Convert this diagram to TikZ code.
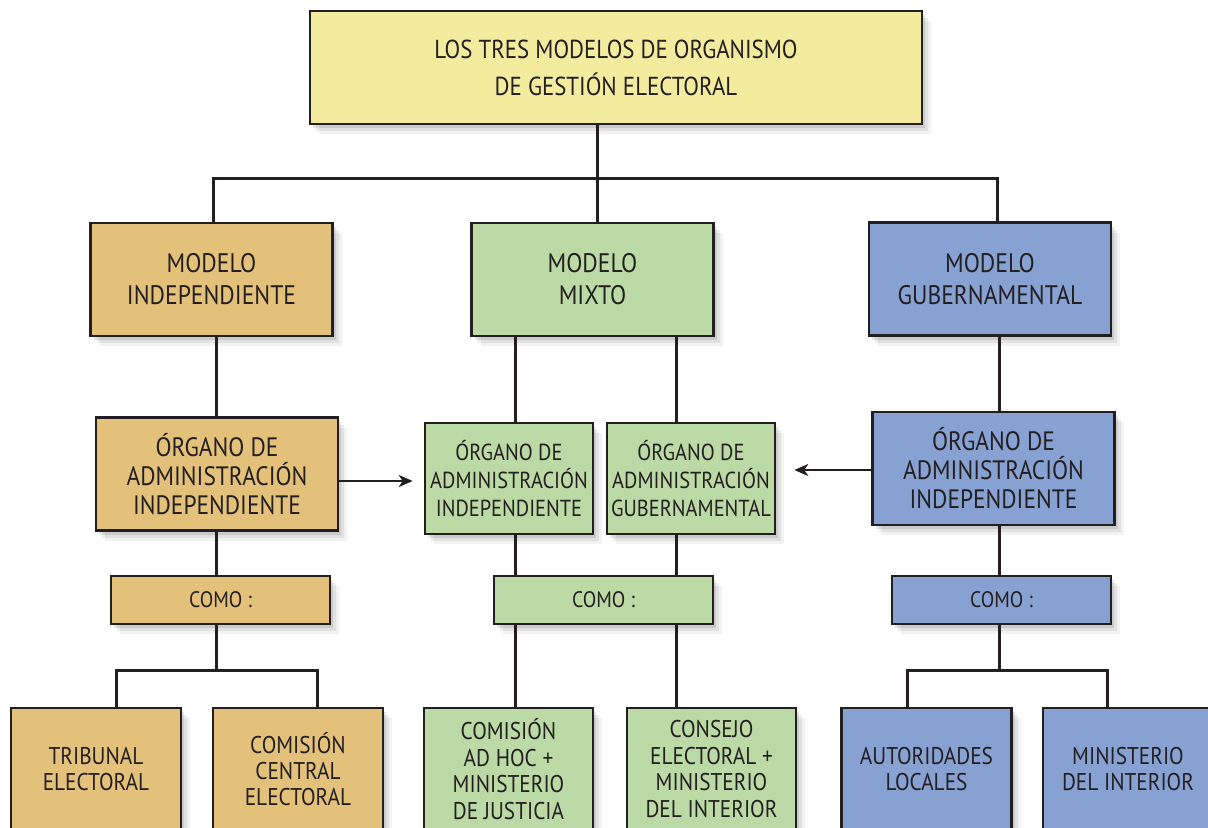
\documentclass[tikz,border=0pt]{standalone}
\usepackage{fontspec}
\setmainfont{PT Sans}[FakeStretch=0.88]
\usetikzlibrary{arrows.meta,shadows}
\definecolor{cyel}{HTML}{F3EC9F}
\definecolor{corg}{HTML}{E4C17B}
\definecolor{cgrn}{HTML}{BCDAA5}
\definecolor{cblu}{HTML}{87A1D3}
\definecolor{cink}{HTML}{231F20}
\begin{document}
\begin{tikzpicture}[x=0.5pt,y=-0.5pt,
  box/.style={draw=cink, line width=1.3pt, inner sep=0pt, align=center, text=cink,
    drop shadow={shadow xshift=1.5pt,shadow yshift=-2pt,opacity=0.10,fill=black},
    drop shadow={shadow xshift=3pt,shadow yshift=-3.5pt,opacity=0.07,fill=black},
    drop shadow={shadow xshift=4.5pt,shadow yshift=-5pt,opacity=0.05,fill=black}},
  bigbox/.style={box, minimum width=121pt, minimum height=56.5pt},
  grnorg/.style={box, fill=cgrn, minimum width=84pt, minimum height=55.5pt, font=\fontsize{11.6}{14}\selectfont},
  comobox/.style={box, minimum width=109.5pt, minimum height=24pt, font=\fontsize{11.2}{12}\selectfont},
  leafbox/.style={box, minimum width=85pt, minimum height=61pt, font=\fontsize{12.1}{13.2}\selectfont},
  conn/.style={draw=cink, line width=1.5pt},
  arr/.style={draw=cink, line width=1pt, -{Stealth[length=7pt,width=6pt,inset=2pt]}}
]
\useasboundingbox (0,0) rectangle (1208,827);
% nodes
\node[box, fill=cyel, minimum width=306pt, minimum height=56.5pt, font=\fontsize{13}{18.5}\selectfont] (top) at (616,67.5) {LOS TRES MODELOS DE ORGANISMO\\DE GESTIÓN ELECTORAL};
\node[bigbox, fill=corg, font=\fontsize{13.4}{16}\selectfont] (mi) at (211.5,279.5) {MODELO\\INDEPENDIENTE};
\node[bigbox, fill=cgrn, font=\fontsize{13.4}{16}\selectfont] (mx) at (592.5,279.5) {MODELO\\MIXTO};
\node[bigbox, fill=cblu, font=\fontsize{13.4}{16}\selectfont] (mg) at (990,279) {MODELO\\GUBERNAMENTAL};
\node[bigbox, fill=corg, font=\fontsize{13.3}{14.5}\selectfont] (ol) at (217,474) {ÓRGANO DE\\ADMINISTRACIÓN\\INDEPENDIENTE};
\node[grnorg] (gi) at (509,478.5) {ÓRGANO DE\\ADMINISTRACIÓN\\INDEPENDIENTE};
\node[grnorg] (gg) at (691,478.5) {ÓRGANO DE\\ADMINISTRACIÓN\\GUBERNAMENTAL};
\node[bigbox, fill=cblu, font=\fontsize{13.3}{14.5}\selectfont] (ob) at (993.5,468.5) {ÓRGANO DE\\ADMINISTRACIÓN\\INDEPENDIENTE};
\node[comobox, fill=corg] (cl) at (220.5,600) {COMO :};
\node[comobox, fill=cgrn] (cg) at (603.5,600) {COMO :};
\node[comobox, fill=cblu] (cb) at (1001.5,600) {COMO :};
\node[leafbox, fill=corg] (tr) at (96,769) {TRIBUNAL\\ELECTORAL};
\node[leafbox, fill=corg] (cc) at (298,769) {COMISIÓN\\CENTRAL\\ELECTORAL};
\node[leafbox, fill=cgrn, minimum width=84.5pt] (ah) at (508.5,769) {COMISIÓN\\AD HOC +\\MINISTERIO\\DE JUSTICIA};
\node[leafbox, fill=cgrn, minimum width=84.5pt] (ce) at (711.5,769) {CONSEJO\\ELECTORAL +\\MINISTERIO\\DEL INTERIOR};
\node[leafbox, fill=cblu] (au) at (926.5,769) {AUTORIDADES\\LOCALES};
\node[leafbox, fill=cblu] (mn) at (1128,769) {MINISTERIO\\DEL INTERIOR};
% helper coordinates
\coordinate (bus) at (597,178);
\coordinate (xl) at (216,0);
\coordinate (x1) at (515,0);
\coordinate (x2) at (676,0);
\coordinate (xb) at (999,0);
\coordinate (bl) at (216,670);
\coordinate (bb) at (999,670);
\coordinate (tl) at (116,0);
\coordinate (tc) at (317,0);
\coordinate (ta) at (907,0);
\coordinate (tm) at (1107,0);
% connectors
\draw[conn] (top.south -| bus) -- (bus);
\draw[conn] (mi.north -| 213,0) |- (bus) -| (mg.north -| 997,0);
\draw[conn] (bus) -- (mx.north -| bus);
\draw[conn] (mi.south -| xl) -- (ol.north -| xl);
\draw[conn] (ol.south -| xl) -- (cl.north -| xl);
\draw[conn] (cl.south -| xl) -- (bl);
\draw[conn] (tr.north -| tl) |- (bl) -| (cc.north -| tc);
\draw[conn] (mx.south -| x1) -- (gi.north -| x1);
\draw[conn] (mx.south -| x2) -- (gg.north -| x2);
\draw[conn] (gi.south -| x1) -- (cg.north -| x1);
\draw[conn] (gg.south -| x2) -- (cg.north -| x2);
\draw[conn] (cg.south -| x1) -- (ah.north -| x1);
\draw[conn] (cg.south -| x2) -- (ce.north -| x2);
\draw[conn] (mg.south -| xb) -- (ob.north -| xb);
\draw[conn] (ob.south -| xb) -- (cb.north -| xb);
\draw[conn] (cb.south -| xb) -- (bb);
\draw[conn] (au.north -| ta) |- (bb) -| (mn.north -| tm);
\draw[arr] ([yshift=-3.5pt]ol.east) -- ([yshift=-3.5pt,xshift=-5.5pt]gi.west |- ol.east);
\draw[arr] ([yshift=-0.75pt]ob.east -| ob.west) -- ([xshift=9pt,yshift=-0.75pt]gg.east |- ob.west);
\end{tikzpicture}
\end{document}
